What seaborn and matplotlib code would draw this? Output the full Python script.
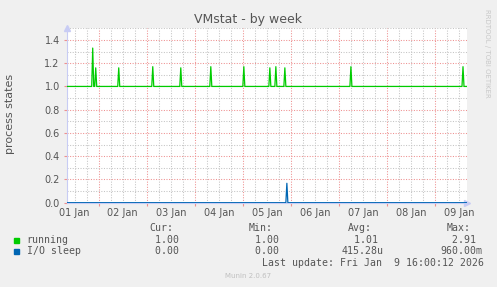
import matplotlib
matplotlib.use("Agg")
import matplotlib.pyplot as plt
import matplotlib.dates as mdates
from matplotlib.ticker import MultipleLocator, FormatStrFormatter, FuncFormatter
import seaborn as sns
import pandas as pd

# ---------------- data ----------------
start = "2026-01-01 08:00"
end = "2026-01-09 16:00"
step = "30min"

running_base = 1.0
running_spike_times = ["2026-01-01 21:00", "2026-01-01 22:30", "2026-01-02 10:00",
                       "2026-01-03 03:00", "2026-01-03 17:00", "2026-01-04 08:00",
                       "2026-01-05 00:30", "2026-01-05 13:30", "2026-01-05 16:30",
                       "2026-01-05 21:00", "2026-01-07 06:00", "2026-01-09 14:00"]
running_spike_values = [1.33, 1.16, 1.16, 1.17, 1.16, 1.17, 1.17, 1.16, 1.17, 1.16, 1.17, 1.17]

iosleep_base = 0.0
iosleep_spike_times = ["2026-01-05 22:00"]
iosleep_spike_values = [0.167]

series_names = ["running", "I/O sleep"]
series_colors = ["#00CC00", "#0066B3"]
cur_values = ["  1.00 ", "  0.00 "]
min_values = ["  1.00 ", "  0.00 "]
avg_values = ["  1.01 ", "415.28u"]
max_values = ["  2.91 ", "960.00m"]

title = "VMstat - by week"
ylabel = "process states"
last_update = "Last update: Fri Jan  9 16:00:12 2026"
footer = "Munin 2.0.67"
side_text = "RRDTOOL / TOBI OETIKER"

# ---------------- build frame ----------------
idx = pd.date_range(start, end, freq=step)
run = pd.Series(running_base, index=idx)
run.loc[pd.to_datetime(running_spike_times)] = running_spike_values
io = pd.Series(iosleep_base, index=idx)
io.loc[pd.to_datetime(iosleep_spike_times)] = iosleep_spike_values
df = pd.concat([
    pd.DataFrame({"time": idx, "value": run.values, "series": series_names[0]}),
    pd.DataFrame({"time": idx, "value": io.values, "series": series_names[1]}),
])

# ---------------- figure ----------------
W, H = 497, 287
fig = plt.figure(figsize=(W / 100, H / 100), dpi=100, facecolor="#F0F0F0")
L, R, T, B = 66.7, 467.0, 28.3, 202.7
ax = fig.add_axes([L / W, 1 - B / H, (R - L) / W, (B - T) / H])
ax.set_facecolor("white")

sns.lineplot(data=df, x="time", y="value", hue="series", hue_order=series_names,
             palette=series_colors, legend=False, linewidth=0.9, errorbar=None,
             ax=ax, zorder=5)

ax.set_xlim(pd.Timestamp(start), pd.Timestamp(end))
ax.set_ylim(0, 1.5)

# grids
major_c = "#EE9090"
minor_c = "#C4C4C4"
ax.yaxis.set_major_locator(MultipleLocator(0.2))
ax.yaxis.set_minor_locator(MultipleLocator(0.1))
ax.yaxis.set_major_formatter(FormatStrFormatter("%.1f"))
ax.xaxis.set_major_locator(mdates.DayLocator())
ax.xaxis.set_major_formatter(FuncFormatter(lambda v, p: ""))
ax.xaxis.set_minor_locator(mdates.HourLocator(byhour=[6, 12, 18]))


def minor_fmt(v, p):
    d = mdates.num2date(v)
    return d.strftime("%d %b") if d.hour == 12 else ""


ax.xaxis.set_minor_formatter(FuncFormatter(minor_fmt))
ax.grid(which="major", color=major_c, linestyle=(0, (1, 1.5)), linewidth=0.75)
ax.grid(which="minor", color=minor_c, linestyle=(0, (1, 1.5)), linewidth=0.75)
ax.set_axisbelow(True)

ax.tick_params(axis="y", which="major", length=2.5, color=major_c, labelsize=7,
               labelcolor="#555555", pad=2.5)
ax.tick_params(axis="y", which="minor", length=0)
ax.tick_params(axis="x", which="major", length=2.5, color=major_c, labelsize=7)
ax.tick_params(axis="x", which="minor", length=0, labelsize=7, labelcolor="#555555", pad=3.5)

for s in ["top", "right"]:
    ax.spines[s].set_visible(False)
for s in ["left", "bottom"]:
    ax.spines[s].set_color("#C8CCF4")
    ax.spines[s].set_linewidth(0.8)

ax.plot([0], [1.0], marker="^", markersize=4, color="#C8CCF4", transform=ax.transAxes,
        clip_on=False)
ax.plot([1.0], [0], marker=">", markersize=4, color="#C8CCF4", transform=ax.transAxes,
        clip_on=False)
ax.set_xlabel("")
ax.set_ylabel("")

# texts
fig.text(248 / W, 1 - 19 / H, title, ha="center", va="center", fontsize=9, color="#555555")
fig.text(10 / W, 1 - 114 / H, ylabel, ha="center", va="center", rotation=90,
         fontsize=8, color="#555555")
fig.text(487 / W, 1 - 53 / H, side_text, ha="center", va="center", rotation=270,
         fontsize=5, color="#C8C8C8")

mono = "DejaVu Sans Mono"
fs = 7.1
tc = "#555555"
heads = [("Cur:", 149), ("Min:", 249), ("Avg:", 348), ("Max:", 447)]
for txt, x in heads:
    fig.text(x / W, 1 - 228 / H, txt, ha="left", va="center", family=mono, fontsize=fs, color=tc)
rows_y = [240, 251.3]
for i, name in enumerate(series_names):
    y = rows_y[i]
    fig.patches.append(plt.Rectangle((14 / W, 1 - (y + 2.5) / H), 5 / W, 5 / H,
                                     transform=fig.transFigure, color=series_colors[i]))
    fig.text(26.7 / W, 1 - y / H, name, ha="left", va="center", family=mono, fontsize=fs, color=tc)
    for col, x0 in zip([cur_values, min_values, avg_values, max_values], [143, 243, 342, 440]):
        fig.text(x0 / W, 1 - y / H, col[i], ha="left", va="center", family=mono,
                 fontsize=fs, color=tc)
fig.text(261.7 / W, 1 - 263.3 / H, last_update, ha="left", va="center", family=mono,
         fontsize=fs, color=tc)
fig.text(248 / W, 1 - 276 / H, footer, ha="center", va="center", fontsize=5, color="#C0C0C0")

fig.savefig("out.png", dpi=100, facecolor=fig.get_facecolor())
